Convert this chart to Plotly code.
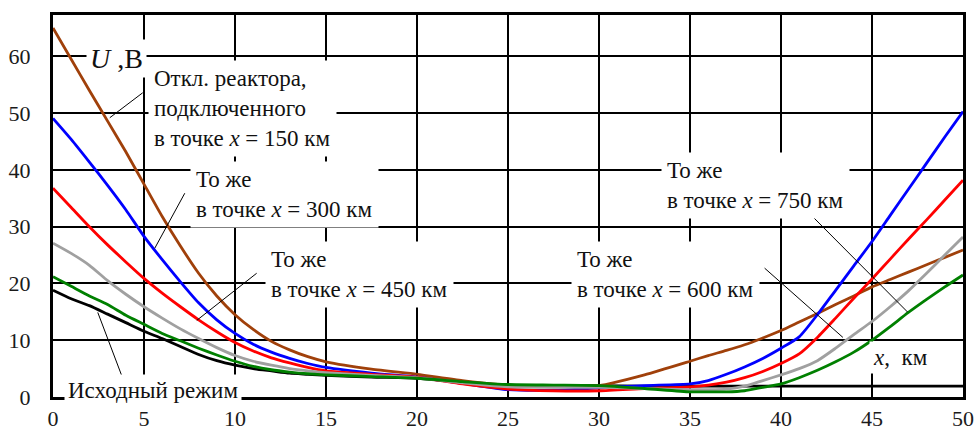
import plotly.graph_objects as go

# distance along the line (axis units), common grid for all curves
x_km = [0, 1, 2, 3, 4, 5, 6, 7, 8, 9, 10, 11, 12, 13, 14, 15, 17.5, 20, 22.5, 25, 27.5, 30,
        32.5, 35, 36, 37, 38, 39, 40, 41, 42, 43, 44, 45, 46, 47, 48, 49, 50]

# voltage profiles, V
u_initial = [18.8, 17.3, 16.1, 14.6, 13.1, 11.6, 10.3, 8.9, 7.5, 6.4, 5.6, 5.0, 4.6, 4.2, 4.0, 3.8, 3.5, 3.3, 2.6, 2.0, 2.0, 2.0,
             1.9, 1.9, 1.9, 1.9, 1.9, 1.9, 1.9, 1.9, 1.9, 1.9, 1.9, 1.9, 1.9, 1.9, 1.9, 1.9, 1.9]
u_150 = [65.0, 59.5, 54.0, 48.6, 43.2, 37.5, 31.8, 26.6, 21.8, 17.8, 14.5, 11.9, 9.8, 8.3, 7.1, 6.2, 4.9, 4.0, 2.9, 2.1, 2.0, 2.0,
         3.9, 6.3, 7.3, 8.2, 9.2, 10.4, 11.7, 13.2, 14.7, 16.3, 17.8, 19.4, 20.7, 22.0, 23.3, 24.6, 25.9]
u_300 = [49.1, 45.4, 41.4, 37.3, 33.0, 28.3, 24.2, 20.3, 16.6, 13.6, 11.2, 9.3, 7.9, 6.8, 5.9, 5.2, 4.2, 3.5, 2.4, 1.3, 1.2, 1.6,
         2.0, 2.3, 2.9, 4.0, 5.3, 6.8, 8.6, 10.6, 14.5, 18.8, 23.1, 27.4, 32.0, 36.6, 41.2, 45.8, 50.3]
u_450 = [36.8, 33.4, 30.0, 26.8, 23.8, 20.9, 18.3, 15.9, 13.6, 11.5, 9.6, 8.1, 6.9, 6.0, 5.2, 4.6, 4.0, 3.5, 2.3, 1.4, 1.1, 1.1,
         1.5, 1.8, 2.1, 2.6, 3.4, 4.5, 5.9, 7.6, 10.5, 13.9, 17.4, 20.8, 24.3, 27.8, 31.2, 34.7, 38.2]
u_600 = [27.1, 25.3, 23.2, 20.5, 18.1, 15.9, 13.9, 12.0, 10.3, 8.7, 7.3, 6.3, 5.6, 5.0, 4.6, 4.3, 3.8, 3.4, 2.5, 1.8, 1.7, 1.7,
         1.5, 1.3, 1.3, 1.4, 1.9, 2.9, 3.9, 5.0, 6.4, 8.6, 11.0, 13.3, 15.9, 18.7, 21.8, 25.0, 28.2]
u_750 = [21.2, 19.5, 17.8, 16.3, 14.4, 12.8, 11.2, 9.9, 8.6, 7.4, 6.3, 5.4, 4.8, 4.4, 4.1, 3.9, 3.6, 3.3, 2.7, 2.2, 2.1, 2.0,
         1.5, 0.9, 0.9, 0.9, 1.1, 1.7, 2.3, 3.4, 4.7, 6.2, 7.9, 10.0, 12.4, 14.9, 17.2, 19.4, 21.5]

x_ticks = [0, 5, 10, 15, 20, 25, 30, 35, 40, 45, 50]
y_ticks = [0, 10, 20, 30, 40, 50, 60]

series = [
    ("Исходный режим", u_initial, "#000000"),
    ("150 км", u_150, "#A0400A"),
    ("300 км", u_300, "#0000FF"),
    ("450 км", u_450, "#FF0000"),
    ("600 км", u_600, "#A0A0A0"),
    ("750 км", u_750, "#008000"),
]

FONT = "Liberation Serif"

fig = go.Figure()
for name, vals, col in series:
    fig.add_trace(go.Scatter(x=x_km, y=vals, mode="lines", name=name,
                             line=dict(color=col, width=2.8, shape="spline", smoothing=0.6),
                             showlegend=False))

# leader lines (data coordinates)
leaders = [
    ((3.12, 49.2), (4.93, 53.6)),
    ((5.59, 26.2), (7.24, 35.9)),
    ((7.9, 13.5), (11.19, 21.8)),
    ((43.4, 10.5), (39.1, 22.7)),
    ((46.96, 14.95), (41.7, 31.9)),
    ((2.46, 14.9), (3.83, 3.3)),
]
for (x0, y0), (x1, y1) in leaders:
    fig.add_shape(type="line", x0=x0, y0=y0, x1=x1, y1=y1, xref="x", yref="y",
                  line=dict(color="#000", width=1), layer="above")

def note(x, y, text, size=23, pad=5):
    fig.add_annotation(x=x, y=y, xref="x", yref="y", text=text, showarrow=False,
                       xanchor="left", yanchor="middle", align="left",
                       font=dict(family=FONT, size=size, color="#111"),
                       bgcolor="white", borderpad=pad)

fig.add_annotation(x=3.5, y=59.7, xref="x", yref="y", text="<i>U</i> ,B", showarrow=False,
                   xanchor="center", yanchor="middle",
                   font=dict(family=FONT, size=28, color="#111"), bgcolor="white", borderpad=3)
note(5.2, 50.8, "Откл. реактора,<br>подключенного<br>в точке <i>x</i> = 150 км")
note(7.55, 35.6, "То же<br>в точке <i>x</i> = 300 км")
note(11.65, 21.6, "То же<br>в точке <i>x</i> = 450 км")
note(28.45, 21.6, "То же<br>в точке <i>x</i> = 600 км")
note(33.4, 37.2, "То же<br>в точке <i>x</i> = 750 км")
note(44.85, 7.0, "<i>x</i>,  км", pad=3)
note(0.6, 1.2, "Исходный режим", pad=3)

axis_common = dict(showline=True, mirror=True, linecolor="#000", linewidth=3,
                   showgrid=True, gridcolor="#000", gridwidth=1.6, zeroline=False,
                   automargin=False,
                   ticks="", tickfont=dict(family=FONT, size=22, color="#1a1a1a"))

fig.update_xaxes(range=[0, 50], tickvals=x_ticks, ticktext=[str(v) for v in x_ticks],
                 ticklabelstandoff=0, **axis_common)
fig.update_yaxes(range=[0, 67.3], tickvals=y_ticks, ticktext=[str(v) for v in y_ticks],
                 ticklabelstandoff=15, **axis_common)

fig.update_layout(width=979, height=432, margin=dict(l=53, r=16, t=15, b=35),
                  paper_bgcolor="white", plot_bgcolor="white")

fig.write_html("out.html")
